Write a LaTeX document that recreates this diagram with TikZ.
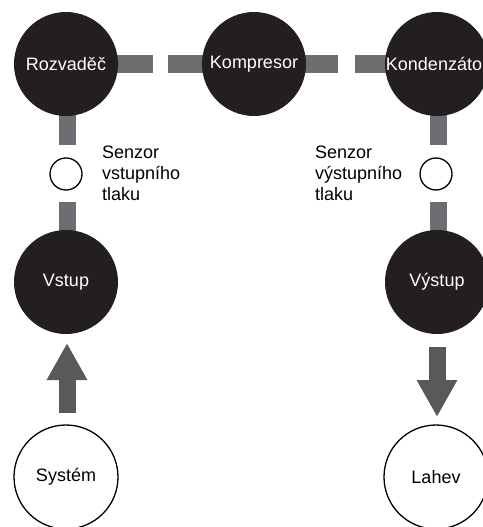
\documentclass[tikz,border=0pt]{standalone}
\usepackage{fontspec}
\setmainfont{Liberation Sans}
\usetikzlibrary{arrows.meta}
\definecolor{nodefill}{HTML}{231F20}
\definecolor{pipe}{HTML}{6D6E71}
\definecolor{flow}{HTML}{58595B}
\tikzset{
  unit/.style={circle,fill=nodefill,text=white,minimum size=104pt,inner sep=0pt,font=\fontsize{18}{21}\selectfont},
  endpoint/.style={circle,draw=black,line width=1.3pt,fill=white,minimum size=104pt,inner sep=0pt,font=\fontsize{18}{21}\selectfont},
  sensor/.style={circle,draw=black,line width=1.3pt,fill=white,minimum size=32pt,inner sep=0pt},
  pipebar/.style={draw=pipe,line width=17pt},
  bigarrow/.style={draw=flow,line width=17pt,-{Triangle[width=38pt,length=37pt]}},
  sensorlabel/.style={align=left,inner sep=0pt,font=\fontsize{18}{21}\selectfont,anchor=north west}
}
\begin{document}
\begin{tikzpicture}[x=1pt,y=-1pt]
\useasboundingbox (0,0) rectangle (482,527);
% gap coordinates
\coordinate (g1a) at (153,64);
\coordinate (g1b) at (168,64);
\coordinate (g2a) at (338,64);
\coordinate (g2b) at (355,64);
\coordinate (gla) at (67,145);
\coordinate (glb) at (67,202);
\coordinate (gra) at (438,145);
\coordinate (grb) at (438,202);
% node centres
\path (66,64) coordinate (rozc) (254,64) coordinate (kompc) (437,64) coordinate (kondc)
      (66,282) coordinate (vstc) (437,282) coordinate (vysc);
% pipes behind
\draw[pipebar] (rozc) -- (g1a);
\draw[pipebar] (g1b) -- (kompc) -- (g2a);
\draw[pipebar] (g2b) -- (kondc);
\draw[pipebar] (67,64) -- (gla);
\draw[pipebar] (glb) -- (67,282);
\draw[pipebar] (438,64) -- (gra);
\draw[pipebar] (grb) -- (438,282);
% main units
\node[unit] (roz) at (rozc) {Rozvaděč};
\node[unit] (komp) at (kompc) {Kompresor};
\node[unit] (kond) at (kondc) {Kondenzátor};
\node[unit] (vst) at (vstc) {Vstup};
\node[unit] (vys) at (vysc) {Výstup};
% sensors
\node[sensor] (sin) at (66,174) {};
\node[sensor] (sout) at (436,174) {};
\node[sensorlabel] (lin) at (102,146) {Senzor\\vstupního\\tlaku};
\node[sensorlabel] (lout) at (315,146) {Senzor\\výstupního\\tlaku};
% endpoints
\node[endpoint] (sys) at (66,477) {Systém};
\node[endpoint] (lah) at (436,477) {Lahev};
% flow arrows
\draw[bigarrow,shorten <=12pt,shorten >=10pt] (67,425) -- (67,333);
\draw[bigarrow,shorten <=14pt,shorten >=8pt] (437,333) -- (437,425);
\end{tikzpicture}
\end{document}
